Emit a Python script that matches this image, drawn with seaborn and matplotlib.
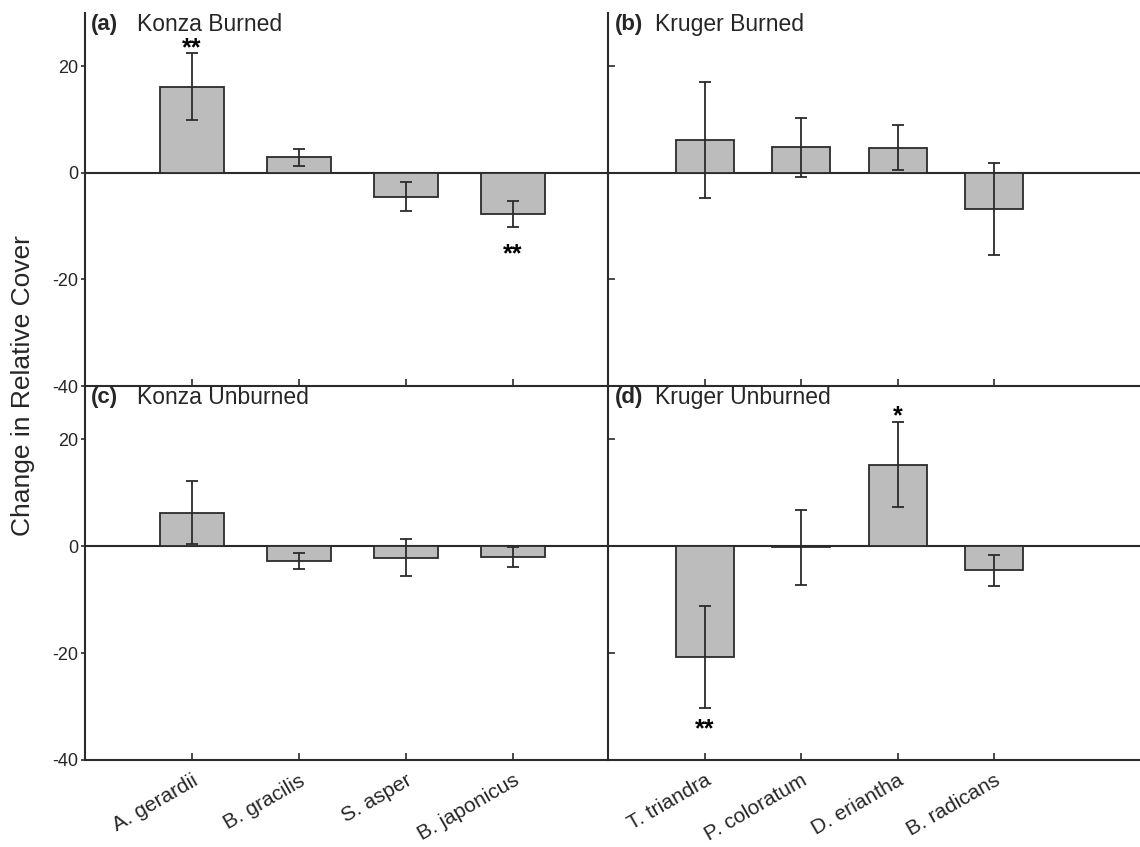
import matplotlib
matplotlib.use('Agg')
import matplotlib.pyplot as plt
import seaborn as sns
import pandas as pd

# species per site
konza = ['A. gerardii', 'B. gracilis', 'S. asper', 'B. japonicus']
kruger = ['T. triandra', 'P. coloratum', 'D. eriantha', 'B. radicans']

# change in relative cover (mean, error)
konza_burned = [16.2, 2.9, -4.5, -7.8]
konza_burned_err = [6.2, 1.6, 2.7, 2.45]
kruger_burned = [6.1, 4.8, 4.7, -6.8]
kruger_burned_err = [10.9, 5.5, 4.2, 8.6]
konza_unburned = [6.3, -2.8, -2.1, -2.0]
konza_unburned_err = [5.9, 1.5, 3.5, 1.8]
kruger_unburned = [-20.7, -0.2, 15.3, -4.5]
kruger_unburned_err = [9.6, 7.0, 7.9, 2.85]

# significance marks: (category index, y value, label)
stars_a = [(0, 23.4, '**'), (3, -15.3, '**')]
stars_b = []
stars_c = []
stars_d = [(2, 24.3, '*'), (0, -34.3, '**')]

sns.set_style('white')
plt.rcParams['font.family'] = ['Liberation Sans', 'DejaVu Sans']
plt.rcParams['axes.unicode_minus'] = False

ink = '#2b2b2b'
fig = plt.figure(figsize=(11.4, 8.47), dpi=100)

L, M, R = 85 / 1140, 608 / 1140, 1.0
T, C, B = 1 - 13 / 847, 1 - 386 / 847, 1 - 760 / 847

panels = [
    ('(a)', 'Konza Burned', konza, konza_burned, konza_burned_err, stars_a, [L, C, M - L, T - C], True, False, (-1.0, 3.89)),
    ('(b)', 'Kruger Burned', kruger, kruger_burned, kruger_burned_err, stars_b, [M, C, R - M, T - C], False, False, (-1.0, 4.51)),
    ('(c)', 'Konza Unburned', konza, konza_unburned, konza_unburned_err, stars_c, [L, B, M - L, C - B], True, True, (-1.0, 3.89)),
    ('(d)', 'Kruger Unburned', kruger, kruger_unburned, kruger_unburned_err, stars_d, [M, B, R - M, C - B], False, True, (-1.0, 4.51)),
]

for tag, title, cats, vals, errs, stars, rect, left, bottom, xl in panels:
    ax = fig.add_axes(rect)
    ax.patch.set_alpha(0)
    df = pd.DataFrame({'species': cats, 'change': vals})
    sns.barplot(data=df, x='species', y='change', color='#bcbcbc', saturation=1,
                edgecolor=ink, linewidth=1.3, width=0.6, errorbar=None, ax=ax, zorder=2)
    ax.errorbar(range(len(cats)), vals, yerr=errs, fmt='none', ecolor=ink,
                elinewidth=1.3, capsize=4.5, capthick=1.3, zorder=3)
    ax.axhline(0, color=ink, lw=1.5, zorder=1)
    for i, y, s in stars:
        ax.text(i, y, s, ha='center', va='center', fontsize=18, fontweight='bold', color='black')

    ax.set_xlim(*xl)
    ax.set_ylim(-40, 30)
    ax.set_yticks([-40, -20, 0, 20])
    ax.set_xlabel('')
    ax.set_ylabel('')
    for side in ['top', 'right']:
        ax.spines[side].set_visible(False)
    for side in ['left', 'bottom']:
        ax.spines[side].set_color(ink)
        ax.spines[side].set_linewidth(1.5)

    ax.tick_params(axis='x', bottom=True, direction='in', length=5, width=1.2, color=ink)
    if left:
        ax.tick_params(axis='y', left=True, direction='out', length=3, width=1.2, color=ink,
                       labelsize=13, pad=2)
    else:
        ax.tick_params(axis='y', left=True, direction='in', length=5, width=1.2, color=ink)
        ax.set_yticklabels([])
    if bottom:
        ax.set_xticks(range(len(cats)))
        ax.set_xticklabels(cats, rotation=30, ha='right', rotation_mode='anchor',
                           fontsize=15)
        ax.tick_params(axis='x', pad=8)
    else:
        ax.set_xticklabels([])

    ax.text(0.012, 0.968, tag, transform=ax.transAxes, ha='left', va='center',
            fontsize=16, fontweight='bold')
    ax.text(0.10 if left else 0.088, 0.968, title, transform=ax.transAxes,
            ha='left', va='center', fontsize=16.5)

fig.text(0.02, C, 'Change in Relative Cover', rotation=90, ha='center', va='center',
         fontsize=19)

fig.savefig('out.png', dpi=100)
